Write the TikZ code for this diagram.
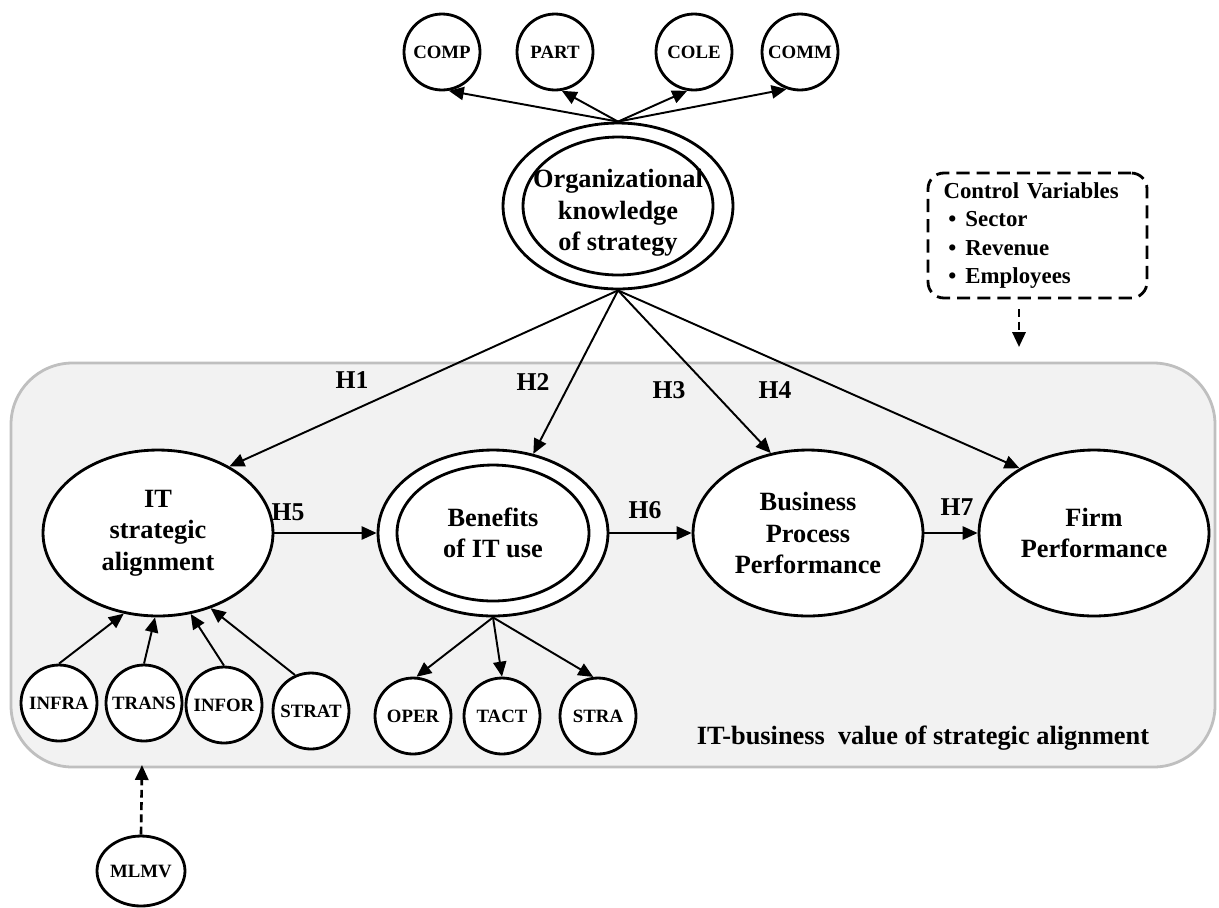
\documentclass[tikz,border=0pt]{standalone}
\usepackage{fontspec}
\setmainfont{Liberation Serif}
\usetikzlibrary{arrows.meta,shapes.geometric}

\begin{document}
\begin{tikzpicture}[
  x=0.02cm, y=-0.02cm,
  >={Triangle[length=8.5pt,width=7.5pt]},
  every node/.style={font=\bfseries\fontsize{15}{18}\selectfont},
  construct/.style={ellipse, draw, line width=1.6pt, fill=white, inner sep=0pt, minimum width=4.6cm, minimum height=3.32cm, align=center},
  ring/.style={ellipse, draw, line width=1.6pt, inner sep=0pt, align=center},
  indicator/.style={circle, draw, line width=1.6pt, fill=white, inner sep=0pt, minimum size=1.52cm, font=\bfseries\fontsize{10.7}{12}\selectfont},
  link/.style={->, line width=1.1pt},
  dashlink/.style={->, line width=1.5pt, dash pattern=on 4.5pt off 2.5pt},
  hyp/.style={font=\bfseries\fontsize{14.6}{17}\selectfont},
]
  \useasboundingbox (0,0) rectangle (1219,907);

  % Shaded region
  \draw[fill=black!5, draw=black!25, line width=1.6pt, rounded corners=35pt]
    (11,363) rectangle (1215,767);
  \node (region) at (923,738) {IT-business\ \ value of strategic alignment};

  % Organizational knowledge and its dimensions
  \node[construct] (org) at (618,206) {};
  \node[ring, minimum width=3.8cm, minimum height=2.76cm] (orgin) at (618,206) {};
  \node[align=center] (orgtext) at (618,213) {Organizational\\knowledge\\of strategy};
  \node[indicator] (comp) at (442,52) {COMP};
  \node[indicator] (part) at (555,52) {PART};
  \node[indicator] (cole) at (694,52) {COLE};
  \node[indicator] (comm) at (800,52) {COMM};
  \foreach \c/\a in {comp/-80, part/-80, cole/-100, comm/-110}
    \draw[link] (org.north) -- (\c.\a);

  % Control variables
  \node[draw, line width=1.6pt, dash pattern=on 7.5pt off 4pt, rounded corners=9pt,
        minimum width=4.38cm, minimum height=2.5cm, inner xsep=8.5pt,
        text width=107pt, align=left, font=\bfseries\fontsize{13}{16}\selectfont]
    (ctrl) at (1037.5,235.5)
    {Control Variables\\
     \hspace*{2.8pt}\makebox[9.7pt][l]{\textbullet}Sector\\
     \hspace*{2.8pt}\makebox[9.7pt][l]{\textbullet}Revenue\\
     \hspace*{2.8pt}\makebox[9.7pt][l]{\textbullet}Employees};
  \coordinate (ctrltip) at (1019,347);
  \draw[dashlink] ([yshift=-5.7pt]ctrltip |- ctrl.south) -- (ctrltip);

  % Main constructs
  \node[construct] (it) at (158,533) {IT\\strategic\\alignment};
  \node[construct] (ben) at (493,533) {};
  \node[ring, minimum width=3.84cm, minimum height=2.72cm] (benin) at (493,533) {Benefits\\of IT use};
  \node[construct] (bpp) at (808,533) {Business\\Process\\Performance};
  \node[construct] (firm) at (1094,533) {Firm\\Performance};

  % Hypotheses
  \draw[link] (org.south) -- (it.43);
  \draw[link] (org.south) -- (ben.63);
  \draw[link] (org.south) -- (bpp.115);
  \draw[link] (org.south) -- (firm.139);
  \draw[link] (it.east) -- (ben.west);
  \draw[link] (ben.east) -- (bpp.west);
  \draw[link] (bpp.east) -- (firm.west);
  \node[hyp] (h1) at (352,380) {H1};
  \node[hyp] (h2) at (533,382) {H2};
  \node[hyp] (h3) at (669,390) {H3};
  \node[hyp] (h4) at (775,390) {H4};
  \node[hyp] (h5) at (288,512) {H5};
  \node[hyp] (h6) at (645,510) {H6};
  \node[hyp] (h7) at (957,507) {H7};

  % Alignment dimensions
  \node[indicator] (infra) at (59,703) {INFRA};
  \node[indicator] (trans) at (144,703) {TRANS};
  \node[indicator] (infor) at (224,705) {INFOR};
  \node[indicator] (strat) at (311,711) {STRAT};
  \draw[link] (infra.north) -- (it.-113);
  \draw[link] (trans.north) -- (it.-92);
  \draw[link] (infor.north) -- (it.-68);
  \draw[link] (strat.114) -- (it.-55);

  % Benefit dimensions
  \node[indicator] (oper) at (413,716) {OPER};
  \node[indicator] (tact) at (502,716) {TACT};
  \node[indicator] (stra) at (598,716) {STRA};
  \draw[link] (ben.south) -- (oper.85);
  \draw[link] (ben.south) -- (tact.north);
  \draw[link] (ben.south) -- (stra.97);

  % Marker variable
  \node[ellipse, draw, line width=1.6pt, fill=white, inner sep=0pt,
        minimum width=1.76cm, minimum height=1.4cm,
        font=\bfseries\fontsize{10.7}{12}\selectfont] (mlmv) at (141,871) {MLMV};
  \coordinate (mlmvtip) at (142,765);
  \draw[dashlink] (mlmv.north) -- (mlmvtip);
\end{tikzpicture}
\end{document}
